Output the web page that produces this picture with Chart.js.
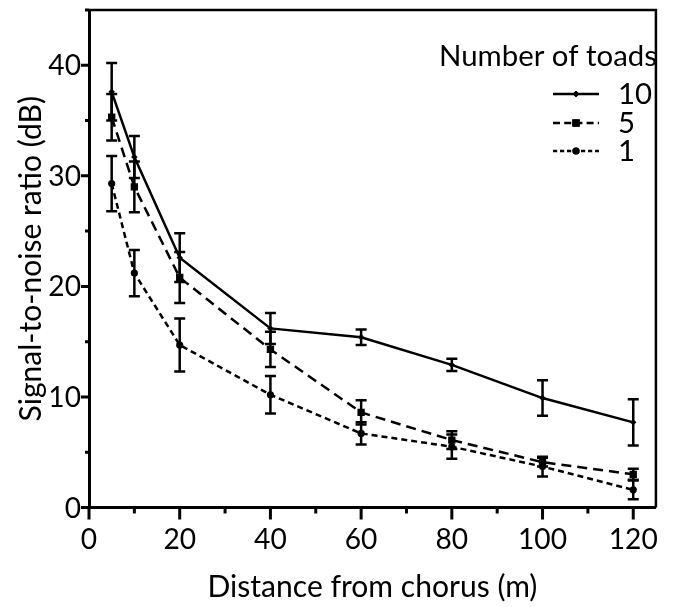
<!DOCTYPE html>
<html><head><meta charset="utf-8">
<script src="https://cdn.jsdelivr.net/npm/chart.js@4.4.0/dist/chart.umd.min.js"></script>
<style>html,body{margin:0;padding:0;background:#fff;} #wrap{width:674px;height:607px;position:relative}</style>
</head><body><div id="wrap"><canvas id="c"></canvas></div>
<script>
// ---- data ----
const distances = [5, 10, 20, 40, 60, 80, 100, 120];
const snr10 = [37.6, 31.7, 22.6, 16.2, 15.4, 12.9, 9.9, 7.7];
const err10 = [2.6, 1.9, 2.2, 1.4, 0.7, 0.55, 1.6, 2.1];
const snr5  = [35.3, 29.0, 20.8, 14.3, 8.6, 6.1, 4.1, 3.0];
const err5  = [2.1, 2.3, 2.3, 1.6, 1.1, 0.8, 0.4, 0.5];
const snr1  = [29.3, 21.2, 14.7, 10.2, 6.7, 5.5, 3.7, 1.6];
const err1  = [2.5, 2.1, 2.4, 1.7, 1.0, 1.1, 0.9, 0.85];
const seriesNames = ['10', '5', '1'];
const legendTitle = 'Number of toads';
const xTitle = 'Distance from chorus (m)';
const yTitle = 'Signal-to-noise ratio (dB)';
const xMajorTicks = [0, 20, 40, 60, 80, 100, 120];
const xMinorTicks = [10, 30, 50, 70, 90, 110];
const yMajorTicks = [0, 10, 20, 30, 40];
const yMinorTicks = [5, 15, 25, 35, 45];

const FONT = 'Lato';
const mctx = document.createElement('canvas').getContext('2d');
function fitSize(text, width) { mctx.font = '100px ' + FONT; return 100 * width / mctx.measureText(text).width; }
const titleSize = fitSize(xTitle, 330);
const legendSize = fitSize(legendTitle, 218);
const tickSize = fitSize('100', 49);

const styles = [
  {dash: [], point: 'rectRot', r: 3.2},
  {dash: [10, 6], point: 'rect', r: 5.2},
  {dash: [6, 4], point: 'circle', r: 3.6}
];
const values = [snr10, snr5, snr1];
const errors = [err10, err5, err1];

const datasets = values.map((vals, k) => ({
  label: seriesNames[k],
  data: distances.map((d, i) => ({x: d, y: vals[i]})),
  borderColor: '#000', backgroundColor: '#000',
  borderWidth: 2.5, borderDash: styles[k].dash,
  pointStyle: styles[k].point, pointRadius: styles[k].r,
  pointBorderWidth: 0, pointBackgroundColor: '#000',
  fill: false, tension: 0
}));

const decor = {
  id: 'decor',
  afterDatasetsDraw(chart) {
    const ctx = chart.ctx, xs = chart.scales.x, ys = chart.scales.y, a = chart.chartArea;
    ctx.save();
    ctx.strokeStyle = '#000'; ctx.lineWidth = 2.5; ctx.setLineDash([]);
    // error bars
    errors.forEach((errs, k) => {
      distances.forEach((d, i) => {
        const x = xs.getPixelForValue(d);
        const y1 = ys.getPixelForValue(values[k][i] + errs[i]);
        const y2 = ys.getPixelForValue(values[k][i] - errs[i]);
        ctx.beginPath();
        ctx.moveTo(x, y1); ctx.lineTo(x, y2);
        ctx.moveTo(x - 5.5, y1); ctx.lineTo(x + 5.5, y1);
        ctx.moveTo(x - 5.5, y2); ctx.lineTo(x + 5.5, y2);
        ctx.stroke();
      });
    });
    // frame top/right
    ctx.lineWidth = 2.5;
    ctx.beginPath();
    ctx.moveTo(a.left, a.top); ctx.lineTo(a.right, a.top); ctx.lineTo(a.right, a.bottom);
    ctx.stroke();
    // ticks
    ctx.lineWidth = 3;
    ctx.beginPath();
    yMajorTicks.forEach(v => { const y = ys.getPixelForValue(v); ctx.moveTo(a.left, y); ctx.lineTo(a.left - 8, y); });
    yMinorTicks.forEach(v => { const y = ys.getPixelForValue(v); ctx.moveTo(a.left, y); ctx.lineTo(a.left - 4, y); });
    xMajorTicks.forEach(v => { const x = xs.getPixelForValue(v); ctx.moveTo(x, a.bottom); ctx.lineTo(x, a.bottom + 12); });
    xMinorTicks.forEach(v => { const x = xs.getPixelForValue(v); ctx.moveTo(x, a.bottom); ctx.lineTo(x, a.bottom + 6); });
    ctx.stroke();
    // y tick labels
    ctx.fillStyle = '#000';
    ctx.font = tickSize + 'px ' + FONT;
    ctx.textBaseline = 'middle';
    ctx.textAlign = 'right';
    yMajorTicks.forEach(v => ctx.fillText(String(v), a.left - 8, ys.getPixelForValue(v) + 1));
    // legend
    ctx.font = legendSize + 'px ' + FONT;
    ctx.textAlign = 'left';
    ctx.fillText(legendTitle, 439, 57);
    const rows = [94, 123, 151];
    seriesNames.forEach((name, k) => {
      const y = rows[k];
      ctx.lineWidth = 2.5;
      ctx.setLineDash(styles[k].dash.map(v => v * 0.7));
      ctx.beginPath(); ctx.moveTo(553, y); ctx.lineTo(599, y); ctx.stroke();
      ctx.setLineDash([]);
      Chart.helpers.drawPoint(ctx, {pointStyle: styles[k].point, radius: styles[k].r, borderWidth: 0}, 576, y);
      ctx.fill();
      ctx.fillText(name, 618, y + 1);
    });
    ctx.restore();
  }
};

new Chart(document.getElementById('c'), {
  type: 'line',
  data: {datasets},
  options: {
    responsive: true, maintainAspectRatio: false, animation: false,
    layout: {padding: {top: 10, right: 6.5, left: 0, bottom: 0}},
    plugins: {legend: {display: false}, tooltip: {enabled: false}},
    scales: {
      x: {
        type: 'linear', min: 0, max: 125,
        afterBuildTicks: s => { s.ticks = xMajorTicks.map(v => ({value: v})); },
        afterFit: s => { s.height = 99.5; },
        grid: {display: false, drawTicks: false},
        border: {display: true, color: '#000', width: 3},
        ticks: {color: '#000', font: {family: FONT, size: tickSize}, padding: 16, maxRotation: 0},
        title: {display: true, text: xTitle, color: '#000', font: {family: FONT, size: titleSize}, padding: {top: 0, bottom: 2}}
      },
      y: {
        min: 0, max: 45,
        afterBuildTicks: s => { s.ticks = yMajorTicks.map(v => ({value: v})); },
        afterFit: s => { s.width = 89; },
        grid: {display: false, drawTicks: false},
        border: {display: true, color: '#000', width: 3},
        ticks: {display: false},
        title: {display: true, text: yTitle, color: '#000', font: {family: FONT, size: titleSize}, padding: {top: 13, bottom: 0}}
      }
    }
  },
  plugins: [decor]
});
</script></body></html>
